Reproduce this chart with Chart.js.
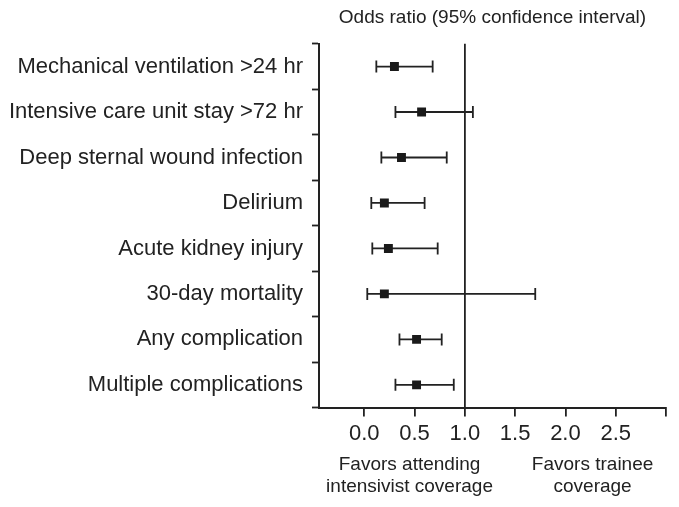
<!DOCTYPE html>
<html>
<head>
<meta charset="utf-8">
<script src="https://cdn.jsdelivr.net/npm/chart.js@4"></script>
<style>
  html, body { margin: 0; padding: 0; background: #fff; }
  #wrap { width: 679px; height: 507px; }
</style>
</head>
<body>
<div id="wrap"><canvas id="forestChart" width="679" height="507"></canvas></div>
<script>
// outcomes, top to bottom
const outcomes = [
    'Mechanical ventilation >24 hr',
    'Intensive care unit stay >72 hr',
    'Deep sternal wound infection',
    'Delirium',
    'Acute kidney injury',
    '30-day mortality',
    'Any complication',
    'Multiple complications'
];
// odds ratio and 95% CI
const oddsRatio = [0.30, 0.57, 0.37, 0.20, 0.24, 0.20, 0.52, 0.52];
const ciLow     = [0.12, 0.31, 0.17, 0.07, 0.08, 0.03, 0.35, 0.31];
const ciHigh    = [0.68, 1.08, 0.82, 0.60, 0.73, 1.70, 0.77, 0.89];

const xTickLabels = ['0.0', '0.5', '1.0', '1.5', '2.0', '2.5'];
const noteLeft  = ['Favors attending', 'intensivist coverage'];
const noteRight = ['Favors trainee', 'coverage'];

const FONT = "'Liberation Sans', Arial, sans-serif";
const INK = '#222';

// whiskers for the confidence intervals
const errorBars = {
    id: 'errorBars',
    beforeDatasetsDraw(chart) {
        const ctx = chart.ctx;
        const x = chart.scales.x, y = chart.scales.y;
        ctx.save();
        ctx.strokeStyle = INK;
        ctx.lineWidth = 1.8;
        outcomes.forEach(function (name, i) {
            const yy = y.getPixelForValue(i);
            const x1 = x.getPixelForValue(ciLow[i]);
            const x2 = x.getPixelForValue(ciHigh[i]);
            ctx.beginPath();
            ctx.moveTo(x1, yy); ctx.lineTo(x2, yy);
            ctx.moveTo(x1, yy - 6); ctx.lineTo(x1, yy + 6);
            ctx.moveTo(x2, yy - 6); ctx.lineTo(x2, yy + 6);
            ctx.stroke();
        });
        ctx.restore();
    }
};

// the two notes under the axis
const sideNotes = {
    id: 'sideNotes',
    afterDraw(chart) {
        const ctx = chart.ctx;
        const x = chart.scales.x;
        const base = chart.chartArea.bottom;
        ctx.save();
        ctx.fillStyle = INK;
        ctx.font = '19px ' + FONT;
        ctx.textAlign = 'center';
        ctx.textBaseline = 'middle';
        const xl = x.getPixelForValue(0.45), xr = x.getPixelForValue(2.27);
        noteLeft.forEach(function (t, i) { ctx.fillText(t, xl, base + 57 + i * 22); });
        noteRight.forEach(function (t, i) { ctx.fillText(t, xr, base + 57 + i * 22); });
        ctx.restore();
    }
};

function loadChart() {
    const ctx = document.getElementById('forestChart');
    if (!ctx) return;

    new Chart(ctx, {
        type: 'scatter',
        data: {
            labels: outcomes,
            datasets: [{
                label: 'Odds ratio',
                data: outcomes.map(function (name, i) { return { x: oddsRatio[i], y: name }; }),
                pointStyle: 'rect',
                pointRadius: 6.3,
                pointHoverRadius: 6.3,
                backgroundColor: '#1a1a1a',
                borderColor: '#1a1a1a',
                borderWidth: 0
            }]
        },
        options: {
            responsive: false,
            animation: false,
            layout: { padding: { left: 0, right: 13, top: 0, bottom: 56 } },
            plugins: {
                legend: { display: false },
                tooltip: { enabled: false },
                title: {
                    display: true,
                    fullSize: false,
                    text: 'Odds ratio (95% confidence interval)',
                    color: INK,
                    font: { family: FONT, size: 19, weight: 'normal' },
                    padding: { top: 6, bottom: 15 }
                }
            },
            scales: {
                x: {
                    type: 'linear',
                    min: -0.45,
                    max: 3.0,
                    border: { display: true, color: INK, width: 2 },
                    grid: {
                        drawOnChartArea: true,
                        drawTicks: true,
                        tickLength: 9,
                        tickWidth: 1.8,
                        tickColor: INK,
                        lineWidth: 1.8,
                        color: function (c) { return c.tick && c.tick.value === 1 ? INK : 'rgba(0,0,0,0)'; }
                    },
                    ticks: {
                        stepSize: 0.5,
                        includeBounds: false,
                        padding: 4,
                        color: INK,
                        font: { family: FONT, size: 22 },
                        maxRotation: 0,
                        autoSkip: false,
                        callback: function (v) {
                            const s = Number(v).toFixed(1);
                            return xTickLabels.indexOf(s) >= 0 ? s : '';
                        }
                    }
                },
                y: {
                    type: 'category',
                    offset: true,
                    border: { display: true, color: INK, width: 2 },
                    grid: {
                        offset: true,
                        drawOnChartArea: false,
                        drawTicks: true,
                        tickLength: 7,
                        tickWidth: 1.8,
                        tickColor: INK
                    },
                    ticks: {
                        padding: 9,
                        color: INK,
                        font: { family: FONT, size: 22 },
                        autoSkip: false
                    },
                    afterFit: function (scale) { scale.width = 319; }
                }
            }
        },
        plugins: [errorBars, sideNotes]
    });
}

document.addEventListener("DOMContentLoaded", function () {
    loadChart();
});
</script>
</body>
</html>
